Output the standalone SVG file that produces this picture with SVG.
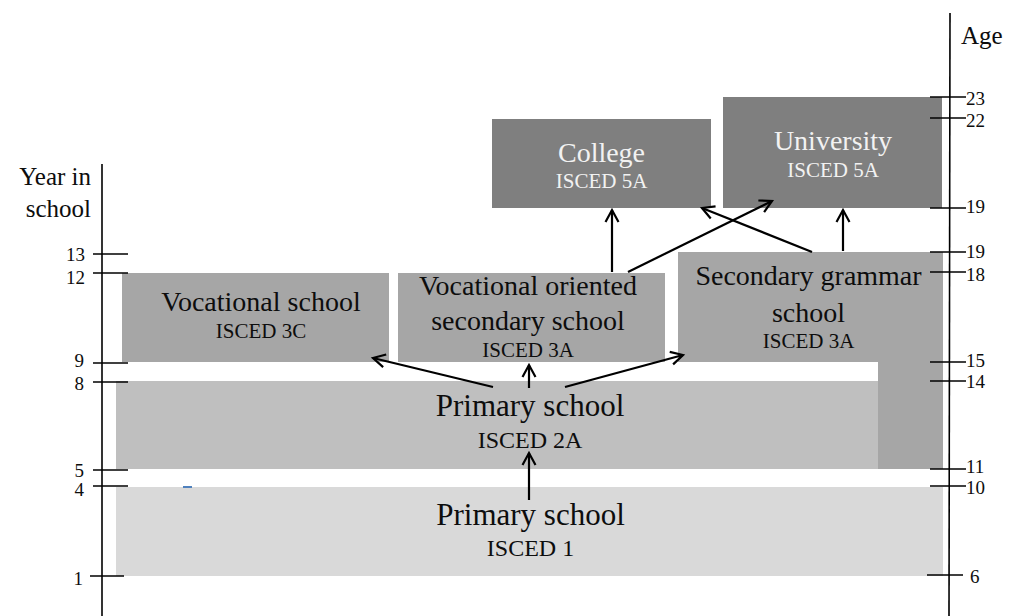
<svg xmlns="http://www.w3.org/2000/svg" width="1011" height="616" viewBox="0 0 1011 616">
<defs>
<style>
text{font-family:"Liberation Serif","Times New Roman",serif;fill:#0d0d0d;text-anchor:middle}
.t{font-size:28px}
.tp{font-size:31px}
.s{font-size:21px}
.sp{font-size:24px}
.w{fill:#f2f2f2}
.lab{font-size:19px}
.l{text-anchor:end}
.r{text-anchor:start}
.ax{font-size:25px}
.axis line{stroke:#000;stroke-width:1.6}
.conn line{stroke:#000;stroke-width:2.2;marker-end:url(#ah)}
</style>
<marker id="ah" markerUnits="userSpaceOnUse" markerWidth="30" markerHeight="30" viewBox="-15 -15 30 30" refX="0" refY="0" orient="auto">
<path d="M-12,-6.5 L0,0 L-12,6.5" fill="none" stroke="#000" stroke-width="2.2"/>
</marker>
</defs>
<rect width="1011" height="616" fill="#fff"/>

<g id="primary1">
<rect x="116" y="487" width="827" height="89" fill="#d9d9d9"/>
<text class="tp" x="530.5" y="525">Primary school</text>
<text class="sp" x="530.5" y="556">ISCED 1</text>
</g>
<rect x="183" y="486" width="9" height="2" fill="#4f81bd"/>

<g id="primary2a">
<rect x="116" y="381" width="762" height="88" fill="#bfbfbf"/>
<text class="tp" x="530" y="416">Primary school</text>
<text class="sp" x="530" y="448">ISCED 2A</text>
</g>

<g id="vocational">
<rect x="122" y="273" width="267" height="89" fill="#a6a6a6"/>
<text class="t" x="261" y="311">Vocational school</text>
<text class="s" x="261" y="338">ISCED 3C</text>
</g>

<g id="vocoriented">
<rect x="398" y="273" width="267" height="89" fill="#a6a6a6"/>
<text class="t" x="528" y="295">Vocational oriented</text>
<text class="t" x="528" y="330">secondary school</text>
<text class="s" x="528" y="357">ISCED 3A</text>
</g>

<g id="grammar">
<path d="M678,252 H943 V469 H878 V362 H678 Z" fill="#a6a6a6"/>
<text class="t" x="808.5" y="285">Secondary grammar</text>
<text class="t" x="808.5" y="322">school</text>
<text class="s" x="808.5" y="348">ISCED 3A</text>
</g>

<g id="college">
<rect x="492" y="119" width="219" height="89" fill="#7f7f7f"/>
<text class="t w" x="601.5" y="162">College</text>
<text class="s w" x="601.5" y="188">ISCED 5A</text>
</g>

<g id="university">
<rect x="723" y="97" width="219" height="111" fill="#7f7f7f"/>
<text class="t w" x="833" y="150">University</text>
<text class="s w" x="833" y="177">ISCED 5A</text>
</g>

<g id="leftaxis" class="axis">
<line x1="102" y1="164" x2="102" y2="616"/>
<line x1="93" y1="254" x2="128" y2="254"/>
<line x1="93" y1="273" x2="128" y2="273"/>
<line x1="93" y1="363" x2="128" y2="363"/>
<line x1="93" y1="382" x2="128" y2="382"/>
<line x1="93" y1="470" x2="128" y2="470"/>
<line x1="93" y1="486" x2="128" y2="486"/>
<line x1="90" y1="576" x2="124" y2="576"/>
<text class="ax l" x="91" y="185">Year in</text>
<text class="ax l" x="91" y="217">school</text>
<text class="lab l" x="85" y="261">13</text>
<text class="lab l" x="85" y="284">12</text>
<text class="lab l" x="84" y="367">9</text>
<text class="lab l" x="84" y="390">8</text>
<text class="lab l" x="84" y="477">5</text>
<text class="lab l" x="84" y="496">4</text>
<text class="lab l" x="83" y="585">1</text>
</g>

<g id="rightaxis" class="axis">
<line x1="950" y1="13" x2="949" y2="616"/>
<line x1="930" y1="97" x2="966" y2="97"/>
<line x1="930" y1="118" x2="966" y2="118"/>
<line x1="930" y1="208" x2="966" y2="208"/>
<line x1="930" y1="252" x2="966" y2="252"/>
<line x1="930" y1="272" x2="966" y2="272"/>
<line x1="930" y1="362" x2="966" y2="362"/>
<line x1="930" y1="381" x2="966" y2="381"/>
<line x1="930" y1="469" x2="966" y2="469"/>
<line x1="930" y1="486" x2="966" y2="486"/>
<line x1="927" y1="575" x2="963" y2="575"/>
<text class="ax r" x="961" y="44">Age</text>
<text class="lab r" x="966" y="105">23</text>
<text class="lab r" x="966" y="127">22</text>
<text class="lab r" x="966" y="213">19</text>
<text class="lab r" x="966" y="258">19</text>
<text class="lab r" x="966" y="281">18</text>
<text class="lab r" x="966" y="367">15</text>
<text class="lab r" x="966" y="388">14</text>
<text class="lab r" x="966" y="473">11</text>
<text class="lab r" x="966" y="494">10</text>
<text class="lab r" x="970" y="583">6</text>
</g>

<g id="connectors" class="conn">
<line x1="529" y1="500" x2="529" y2="453"/>
<line x1="529" y1="388" x2="529" y2="365"/>
<line x1="493" y1="387" x2="373" y2="358"/>
<line x1="565" y1="387" x2="683" y2="355"/>
<line x1="612" y1="272" x2="612" y2="210"/>
<line x1="628" y1="272" x2="772" y2="201"/>
<line x1="812" y1="252" x2="702" y2="208"/>
<line x1="843" y1="251" x2="843" y2="210"/>
</g>
</svg>
